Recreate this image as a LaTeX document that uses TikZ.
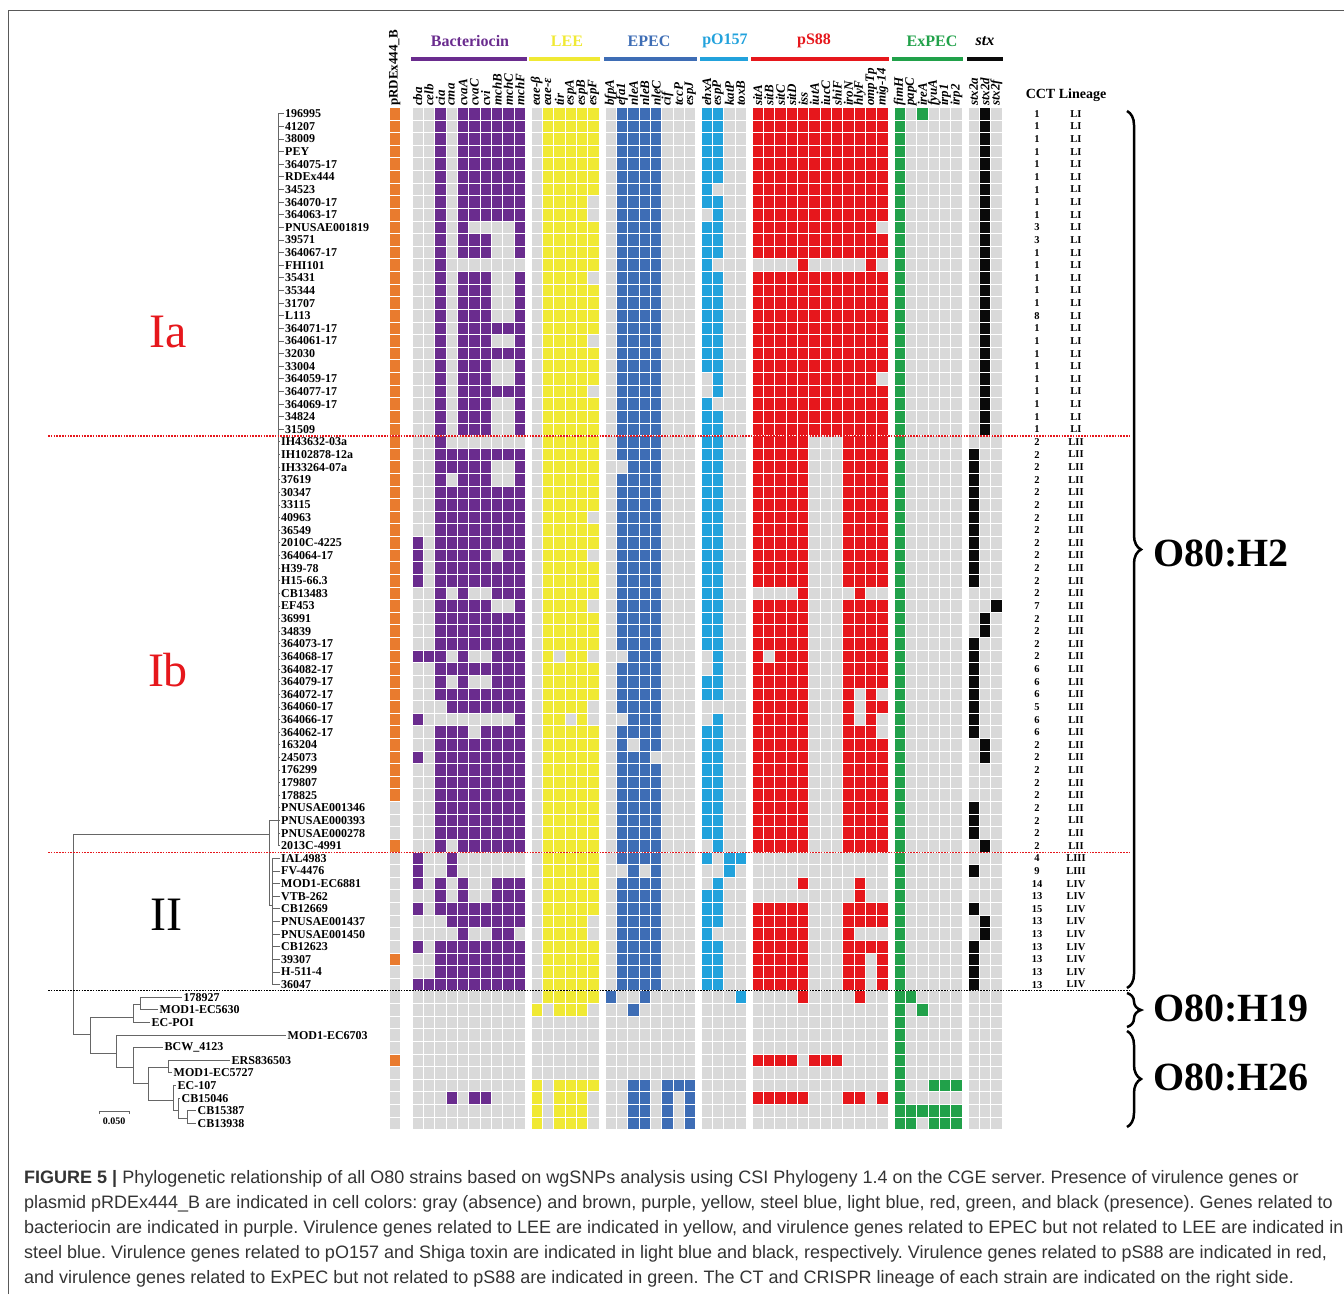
\documentclass[tikz,border=0pt]{standalone}
\usepackage{fontspec}
\setmainfont{Liberation Serif}
\newfontfamily\capfont{Liberation Sans}
\usetikzlibrary{decorations.pathreplacing}

% Colores de los grupos de genes
\definecolor{cpr}{HTML}{E97B2E}
\definecolor{cbac}{HTML}{6A2C8E}
\definecolor{clee}{HTML}{F0E934}
\definecolor{cepec}{HTML}{3E6DB5}
\definecolor{cpo}{HTML}{22A2DC}
\definecolor{cps}{HTML}{E6171C}
\definecolor{cex}{HTML}{21A14A}
\definecolor{cstx}{HTML}{0A0A0A}
\definecolor{cgris}{HTML}{D9D9D9}
\definecolor{ctext}{HTML}{333333}

% Celdas del mapa: una cadena por fila, grupos separados por |
\newcount\grupo
\def\ponergrupo{%
  \ifcase\grupo \def\cx{389}\def\gcol{cpr}%
  \or \def\cx{412}\def\gcol{cbac}%
  \or \def\cx{531}\def\gcol{clee}%
  \or \def\cx{605}\def\gcol{cepec}%
  \or \def\cx{701}\def\gcol{cpo}%
  \or \def\cx{752}\def\gcol{cps}%
  \or \def\cx{894}\def\gcol{cex}%
  \or \def\cx{968}\def\gcol{cstx}\fi}
\def\celda#1{%
  \if#1|\advance\grupo by 1 \ponergrupo
  \else
    \if#11\edef\fcol{\gcol}\else\def\fcol{cgris}\fi
    \fill[fill=\fcol] (\cx+0.5,\fy+0.5) rectangle ++(10.35,11.62);
    \pgfmathsetmacro\cx{\cx+11.35}%
  \fi}
\def\leercelda#1{%
  \ifx#1\relax\let\siguiente\relax
  \else\def\siguiente{\celda{#1}\leercelda}\fi
  \siguiente}
\def\filacelda#1#2{%
  \pgfmathsetmacro\fy{107.5+12.62*#1}%
  \grupo=0 \ponergrupo
  \expandafter\leercelda#2\relax}

\begin{document}
\frenchspacing
\begin{tikzpicture}[x=1pt, y=-1pt]
  \tikzset{
    strain_node/.style={font=\bfseries\fontsize{12}{12}\selectfont, inner sep=1.5pt, anchor=west},
    gene_node/.style={font=\bfseries\itshape\fontsize{13}{13}\selectfont, rotate=90, anchor=west, inner sep=0pt},
    title_node/.style={font=\bfseries\fontsize{16}{16}\selectfont, inner sep=0pt},
    group_bar/.style={line width=4pt},
    branch/.style={draw=black!60, line width=0.9pt},
    small_node/.style={font=\bfseries\fontsize{10.5}{10.5}\selectfont, inner sep=0pt},
    clade_node/.style={font=\fontsize{48}{48}\selectfont, inner sep=0pt},
    serotype_node/.style={font=\bfseries\fontsize{40}{40}\selectfont, anchor=west, inner sep=0pt},
    brace_line/.style={decorate, decoration={brace, amplitude=14pt}, line width=2.5pt},
    cut_line/.style={line width=1.6pt, dash pattern=on 1.6pt off 1.2pt},
    caption_node/.style={font=\capfont\fontsize{18}{25}\selectfont, text=ctext, anchor=base west, inner sep=0pt}
  }
  \useasboundingbox (0,0) rectangle (1344,1294);

  % Marco
  \draw[black!65, line width=1.2pt] (8.5,1294) -- (8.5,10.5) -- (1344,10.5);

  % Mapa de calor (filas 0-80)
  \foreach \datos [count=\fila from 0] in {
    1|0010111111|011111|01111000|1100|111111111111|101000|010,
    1|0010111111|011111|01111000|1100|111111111111|100000|010,
    1|0010111111|011111|01111000|1100|111111111111|100000|010,
    1|0010111111|011111|01111000|1100|111111111111|100000|010,
    1|0010111111|011111|01111000|1100|111111111111|100000|010,
    1|0010111111|011111|01111000|1100|111111111111|100000|010,
    1|0010111111|011111|01111000|1000|111111111111|100000|010,
    1|0010111111|011110|01111000|1100|111111111111|100000|010,
    1|0010111111|011110|01111000|0100|111111111111|100000|010,
    1|0010100001|011111|01111000|1100|111111111110|100000|010,
    1|0010111001|011111|01111000|1100|111111111111|100000|010,
    1|0010111001|011111|01111000|1100|111111111111|100000|010,
    1|0010000000|011111|01111000|1000|000010000010|100000|010,
    1|0010111001|011110|01111000|1100|111111111111|100000|010,
    1|0010111001|011111|01111000|1100|111111111111|100000|010,
    1|0010111001|011111|01111000|1100|111111111111|100000|010,
    1|0010111001|011111|01111000|1100|111111111111|100000|010,
    1|0010111111|011111|01111000|1100|111111111111|100000|010,
    1|0010111001|011110|01111000|1100|111111111111|100000|010,
    1|0010111111|011111|01111000|1100|111111111111|100000|010,
    1|0010111001|011111|01111000|1100|111111111111|100000|010,
    1|0010111001|011111|01111000|0100|111111111110|100000|010,
    1|0010111111|011110|01111000|0100|111111111111|100000|010,
    1|0010111001|011111|01111000|1000|111111111111|100000|010,
    1|0010111001|011111|01111000|1100|111111111111|100000|010,
    1|0010111001|011111|01111000|1100|111111111111|100000|010,
    1|0010000000|011111|01111000|1100|111110001111|100000|000,
    1|0011111111|011111|01111000|1100|111110001111|100000|100,
    1|0011111001|011111|00111000|1100|111110001111|100000|100,
    1|0010111001|011111|01111000|1100|111110001111|100000|100,
    1|0011111111|011111|01111000|1100|111110001111|100000|100,
    1|0011111111|011111|01111000|1100|111110001111|100000|100,
    1|0011111111|011110|01111000|1100|111110001111|100000|100,
    1|0011111111|011111|01111000|1100|111110001111|100000|100,
    1|1011111111|011111|01111000|1100|111110001111|100000|100,
    1|1011111011|011110|01111000|1100|111110001111|100000|100,
    1|1011111111|011111|01111000|1100|111110001111|100000|100,
    1|1011111111|011111|01111000|1100|111110001111|100000|100,
    1|0010100111|011111|01111000|1100|000010000100|100000|000,
    1|0011111001|011110|01111000|1100|111110001111|100000|001,
    1|0011111111|011111|01111000|1100|111110001111|100000|010,
    1|0011111111|011111|01111000|1100|111110001111|100000|010,
    1|0011111111|011111|01111000|1100|111110001111|100000|100,
    1|1110100111|010110|00111000|0100|101110001111|100000|100,
    1|0011111111|011111|01111000|0100|111110001111|100000|100,
    1|0010100111|011111|01111000|1100|111110001111|100000|100,
    1|0011111111|011111|01111000|1100|111110001010|100000|100,
    1|0001111111|011110|01111000|0000|111110001011|100000|100,
    1|1000000001|011010|00111000|0100|111110001010|100000|100,
    1|0011101111|011111|01111000|1100|111110001110|100000|100,
    1|0011111111|011111|01011000|1100|111110001111|100000|010,
    1|1011111111|011111|01110000|1100|111110001111|100000|010,
    1|0011111111|011111|01111000|1100|111110001111|100000|000,
    1|0011111111|011111|01111000|1100|111110001111|100000|000,
    1|0011111111|011111|01111000|1100|111110001111|100000|000,
    0|0011111111|011111|01111000|1100|111110001111|100000|100,
    0|0011111111|011111|01111000|1100|111110001111|100000|100,
    0|0011111111|011111|01111000|1100|111110001111|100000|100,
    1|0010111111|011111|01111000|0100|111110001111|100000|010,
    0|1001000000|011111|01111000|1011|000000000000|100000|000,
    0|1001000000|011111|00101000|0010|000000000000|100000|100,
    0|1010100111|011111|01111000|0100|000010000100|100000|000,
    0|0010100111|011111|01111000|1100|000000000100|100000|000,
    0|1011111111|011111|01111000|1100|111110001111|100000|100,
    0|0001111111|011110|01111000|1100|111110001111|100000|010,
    0|0000100110|011110|01111000|1000|111110001000|100000|010,
    0|1011111111|011111|01111000|1100|111110001111|100000|100,
    1|0011111111|011111|01111000|1100|111110001101|100000|100,
    0|0011111111|011111|01111000|1100|111110001101|100000|100,
    0|1111111111|011111|01111000|1100|111110001101|100000|100,
    0|0000000000|011111|10010000|0001|000010000100|110000|000,
    0|0000000000|101110|00100000|0000|000000000000|101000|000,
    0|0000000000|000000|00000000|0000|000000000000|100000|000,
    0|0000000000|000000|00000000|0000|000000000000|100000|000,
    0|0000000000|000000|00000000|0000|000000000000|100000|000,
    1|0000000000|000000|00000000|0000|111101110000|100000|000,
    0|0000000000|000000|00000000|0000|000000000000|100000|000,
    0|0000000000|101111|00110111|0000|000000000000|100111|000,
    0|0001011000|101110|00110101|0000|111110001101|100000|000,
    0|0000000000|101110|00110101|0000|000000000000|111111|000,
    0|0000000000|101110|00110101|0000|000000000000|110111|000}
    {\filacelda{\fila}{\datos}}

  % Cabecera: grupos, barras y genes
  \node[gene_node, font=\bfseries\fontsize{13}{13}\selectfont] (pr) at (394.7,106) {pRDEx444\_B};
  \node[title_node, text=cbac] (tbac) at (470,41) {Bacteriocin};
  \node[title_node, text=clee] (tlee) at (567,41) {LEE};
  \node[title_node, text=cepec] (tepec) at (649,41) {EPEC};
  \node[title_node, text=cpo] (tpo) at (725,41) {pO157};
  \node[title_node, text=cps] (tps) at (814,41) {pS88};
  \node[title_node, text=cex] (tex) at (932,41) {ExPEC};
  \node[title_node, font=\bfseries\itshape\fontsize{16}{16}\selectfont] (tstx) at (985,41) {stx};
  \draw[group_bar, cbac] (411,59) -- (527,59);
  \draw[group_bar, clee] (529,59) -- (600,59);
  \draw[group_bar, cepec] (604,59) -- (697,59);
  \draw[group_bar, cpo] (700,59) -- (748,59);
  \draw[group_bar, cps] (751,59) -- (889,59);
  \draw[group_bar, cex] (892,59) -- (963,59);
  \draw[group_bar, cstx] (967,59) -- (1003,59);
  \foreach \g [count=\k from 0] in {cba,celb,cia,cma,cvaA,cvaC,cvi,mchB,mchC,mchF}
    \node[gene_node] (bac\k) at ({412+11.35*(\k+0.5)},106) {\g};
  \foreach \g [count=\k from 0] in {eae-β,eae-ε,tir,espA,espB,espF}
    \node[gene_node] (lee\k) at ({531+11.35*(\k+0.5)},106) {\g};
  \foreach \g [count=\k from 0] in {bfpA,efa1,nleA,nleB,nleC,cif,tccP,espJ}
    \node[gene_node] (epec\k) at ({605+11.35*(\k+0.5)},106) {\g};
  \foreach \g [count=\k from 0] in {ehxA,espP,katP,toxB}
    \node[gene_node] (po\k) at ({701+11.35*(\k+0.5)},106) {\g};
  \foreach \g [count=\k from 0] in {sitA,sitB,sitC,sitD,iss,iutA,iucC,shiF,iroN,hlyF,ompTp,mig-14}
    \node[gene_node] (ps\k) at ({752+11.35*(\k+0.5)},106) {\g};
  \foreach \g [count=\k from 0] in {fimH,papC,ireA,fyuA,irp1,irp2}
    \node[gene_node] (ex\k) at ({894+11.35*(\k+0.5)},106) {\g};
  \foreach \g [count=\k from 0] in {stx2a,stx2d,stx2f}
    \node[gene_node] (stx\k) at ({968+11.35*(\k+0.5)},106) {\g};
  \node[font=\bfseries\fontsize{14}{14}\selectfont, inner sep=0pt] (cabecera) at (1066,95) {CCT Lineage};

  % Cepas (clados Ia, Ib, II)
  \foreach \n [count=\i from 0] in {196995,41207,38009,PEY,364075-17,RDEx444,34523,364070-17,364063-17,PNUSAE001819,39571,364067-17,FHI101,35431,35344,31707,L113,364071-17,364061-17,32030,33004,364059-17,364077-17,364069-17,34824,31509}
    {\pgfmathsetmacro\yc{113.81+12.62*\i}
     \node[strain_node] (s\i) at (283.5,\yc) {\n};}
  \foreach \n [count=\i from 26] in {IH43632-03a,IH102878-12a,IH33264-07a,37619,30347,33115,40963,36549,2010C-4225,364064-17,H39-78,H15-66.3,CB13483,EF453,36991,34839,364073-17,364068-17,364082-17,364079-17,364072-17,364060-17,364066-17,364062-17,163204,245073,176299,179807,178825,PNUSAE001346,PNUSAE000393,PNUSAE000278,2013C-4991}
    {\pgfmathsetmacro\yc{113.81+12.62*\i}
     \node[strain_node] (s\i) at (279.5,\yc) {\n};}
  \foreach \n [count=\i from 59] in {IAL4983,FV-4476,MOD1-EC6881,VTB-262,CB12669,PNUSAE001437,PNUSAE001450,CB12623,39307,H-511-4,36047}
    {\pgfmathsetmacro\yc{113.81+12.62*\i}
     \node[strain_node] (s\i) at (279.5,\yc) {\n};}

  % Cepas O80:H19 y O80:H26
  \node[strain_node] (s70) at (182,997.2) {178927};
  \node[strain_node] (s71) at (158,1009.8) {MOD1-EC5630};
  \node[strain_node] (s72) at (150,1022.4) {EC-POI};
  \node[strain_node] (s73) at (286,1035.1) {MOD1-EC6703};
  \node[strain_node] (s74) at (163,1047.7) {BCW\_4123};
  \node[strain_node] (s75) at (230,1060.3) {ERS836503};
  \node[strain_node] (s76) at (172,1072.9) {MOD1-EC5727};
  \node[strain_node] (s77) at (176,1085.5) {EC-107};
  \node[strain_node] (s78) at (180,1098.2) {CB15046};
  \node[strain_node] (s79) at (196,1110.8) {CB15387};
  \node[strain_node] (s80) at (196,1123.4) {CB13938};

  % Nodos internos del árbol
  \coordinate (raiz) at (73,934);
  \coordinate (nH2) at (269,834);
  \coordinate (nI) at (278,820);
  \coordinate (nII) at (272,905);
  \coordinate (nA) at (90,1034);
  \coordinate (nB) at (133,1017);
  \coordinate (nC) at (140,1004);
  \coordinate (nD) at (116,1053);
  \coordinate (nE) at (133,1067);
  \coordinate (nF) at (148,1083);
  \coordinate (nG) at (168,1067);
  \coordinate (nH) at (173,1100);
  \coordinate (nK) at (178,1110);
  \coordinate (nJ) at (187,1118);

  % Ramas
  \draw[branch] (raiz) |- (nH2);
  \draw[branch] (raiz) |- (nA);
  \draw[branch] (nH2) |- (nI);
  \draw[branch] (nH2) |- (nII);
  \foreach \i in {0,...,58} \draw[branch] (nI) |- (s\i.west);
  \foreach \i in {59,...,69} \draw[branch] (nII) |- (s\i.west);
  \draw[branch] (nA) |- (nB);
  \draw[branch] (nA) |- (nD);
  \draw[branch] (nB) |- (nC);
  \draw[branch] (nB) |- (s72.west);
  \draw[branch] (nC) |- (s70.west);
  \draw[branch] (nC) |- (s71.west);
  \draw[branch] (nD) |- (s73.west);
  \draw[branch] (nD) |- (nE);
  \draw[branch] (nE) |- (s74.west);
  \draw[branch] (nE) |- (nF);
  \draw[branch] (nF) |- (nG);
  \draw[branch] (nF) |- (nH);
  \draw[branch] (nG) |- (s75.west);
  \draw[branch] (nG) |- (s76.west);
  \draw[branch] (nH) |- (s77.west);
  \draw[branch] (nH) |- (nK);
  \draw[branch] (nK) |- (s78.west);
  \draw[branch] (nK) |- (nJ);
  \draw[branch] (nJ) |- (s79.west);
  \draw[branch] (nJ) |- (s80.west);

  % Escala
  \draw[branch] (99,1114) -- (99,1111) -- (129,1111) -- (129,1114);
  \node[small_node, font=\bfseries\fontsize{10}{10}\selectfont] (escala) at (114,1121) {0.050};

  % CCT y linaje
  \foreach \c/\l [count=\i from 0] in {1/LI,1/LI,1/LI,1/LI,1/LI,1/LI,1/LI,1/LI,1/LI,3/LI,3/LI,1/LI,1/LI,1/LI,1/LI,1/LI,8/LI,1/LI,1/LI,1/LI,1/LI,1/LI,1/LI,1/LI,1/LI,1/LI,
      2/LII,2/LII,2/LII,2/LII,2/LII,2/LII,2/LII,2/LII,2/LII,2/LII,2/LII,2/LII,2/LII,7/LII,2/LII,2/LII,2/LII,2/LII,6/LII,6/LII,6/LII,5/LII,6/LII,6/LII,2/LII,2/LII,2/LII,2/LII,2/LII,2/LII,2/LII,2/LII,2/LII,
      4/LIII,9/LIII,14/LIV,13/LIV,15/LIV,13/LIV,13/LIV,13/LIV,13/LIV,13/LIV,13/LIV}
    {\pgfmathsetmacro\yc{113.81+12.62*\i}
     \node[small_node] (cct\i) at (1037,\yc) {\c};
     \node[small_node] (lin\i) at (1076,\yc) {\l};}

  % Líneas de corte entre clados
  \draw[cut_line, cps] (48,435.7) -- (1130,435.7);
  \draw[cut_line, cps] (48,852.3) -- (1130,852.3);
  \draw[cut_line, black] (48,990.5) -- (1130,990.5);

  % Etiquetas de clado
  \node[clade_node, text=cps] (cIa) at (168,332) {Ia};
  \node[clade_node, text=cps] (cIb) at (168,670) {Ib};
  \node[clade_node] (cII) at (166,915) {II};

  % Llaves de serotipo
  \draw[brace_line] (1127,111) -- (1127,988);
  \draw[brace_line] (1127,993) -- (1127,1027);
  \draw[brace_line] (1127,1031) -- (1127,1127);
  \node[serotype_node] (h2) at (1153,553) {O80:H2};
  \node[serotype_node] (h19) at (1153,1008) {O80:H19};
  \node[serotype_node] (h26) at (1153,1077) {O80:H26};

  % Pie de figura
  \node[caption_node] (pie1) at (24,1183.5) {\textbf{FIGURE 5 |} Phylogenetic relationship of all O80 strains based on wgSNPs analysis using CSI Phylogeny 1.4 on the CGE server. Presence of virulence genes or};
  \node[caption_node] (pie2) at (24,1208.5) {plasmid pRDEx444\_B are indicated in cell colors: gray (absence) and brown, purple, yellow, steel blue, light blue, red, green, and black (presence). Genes related to};
  \node[caption_node] (pie3) at (24,1233.5) {bacteriocin are indicated in purple. Virulence genes related to LEE are indicated in yellow, and virulence genes related to EPEC but not related to LEE are indicated in};
  \node[caption_node] (pie4) at (24,1258.5) {steel blue. Virulence genes related to pO157 and Shiga toxin are indicated in light blue and black, respectively. Virulence genes related to pS88 are indicated in red,};
  \node[caption_node] (pie5) at (24,1283.5) {and virulence genes related to ExPEC but not related to pS88 are indicated in green. The CT and CRISPR lineage of each strain are indicated on the right side.};
\end{tikzpicture}
\end{document}
